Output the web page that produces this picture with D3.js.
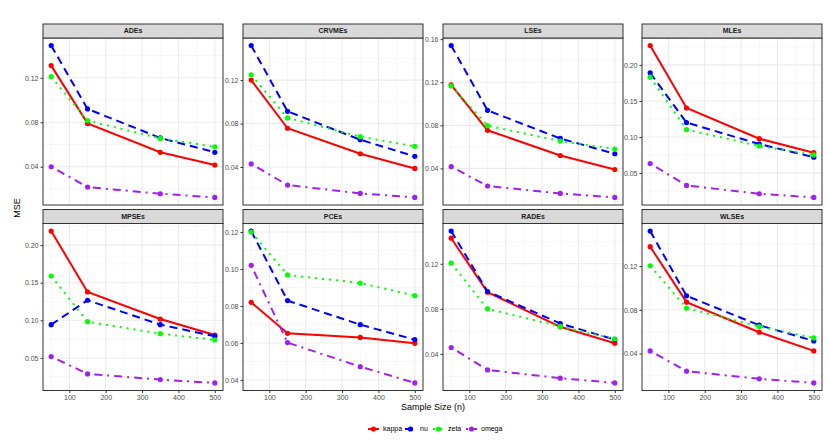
<!DOCTYPE html>
<html>
<head>
<meta charset="utf-8">
<script src="https://cdn.jsdelivr.net/npm/d3@7"></script>
<style>
  body { margin: 0; background: #fff; }
  text { font-family: "Liberation Sans", Arial, sans-serif; }
</style>
</head>
<body>
<div id="chart"></div>
<script>
// sample sizes on the x axis
const sampleSizes = [50, 150, 350, 500];
const xTicks = [100, 200, 300, 400, 500];

// one facet per estimator
const estimators = ["ADEs", "CRVMEs", "LSEs", "MLEs", "MPSEs", "PCEs", "RADEs", "WLSEs"];

// MSE values, one row per estimator (same order as above)
const kappa = [
    [0.131, 0.079, 0.053, 0.0415],
    [0.120, 0.0757, 0.0522, 0.0387],
    [0.1175, 0.0754, 0.052, 0.039],
    [0.2268, 0.1403, 0.0977, 0.0783],
    [0.2186, 0.1377, 0.1017, 0.0805],
    [0.082, 0.0652, 0.063, 0.0598],
    [0.1427, 0.0948, 0.0641, 0.0495],
    [0.1377, 0.087, 0.0595, 0.0424]
];
const nu = [
    [0.149, 0.092, 0.0659, 0.053],
    [0.1518, 0.0913, 0.0651, 0.0498],
    [0.154, 0.0939, 0.0678, 0.0536],
    [0.189, 0.120, 0.0903, 0.072],
    [0.0942, 0.1267, 0.0942, 0.0789],
    [0.1205, 0.0829, 0.0699, 0.0618],
    [0.149, 0.0954, 0.067, 0.0527],
    [0.152, 0.0928, 0.0659, 0.0515]
];
const zeta = [
    [0.121, 0.0815, 0.0655, 0.058],
    [0.1249, 0.0852, 0.0679, 0.059],
    [0.1166, 0.0797, 0.0654, 0.058],
    [0.183, 0.1104, 0.0876, 0.0752],
    [0.1589, 0.0982, 0.0822, 0.0739],
    [0.120, 0.0968, 0.0924, 0.0856],
    [0.1205, 0.080, 0.0644, 0.0533],
    [0.1203, 0.0815, 0.0647, 0.0543]
];
const omega = [
    [0.040, 0.0217, 0.0157, 0.0124],
    [0.0428, 0.0234, 0.0157, 0.012],
    [0.0416, 0.0237, 0.0168, 0.0131],
    [0.0633, 0.0329, 0.0214, 0.0163],
    [0.0518, 0.0288, 0.0212, 0.0168],
    [0.102, 0.0602, 0.0472, 0.0384],
    [0.0457, 0.0258, 0.0185, 0.0143],
    [0.0424, 0.0238, 0.0168, 0.0131]
];

// y tick labels per facet (free y scales)
const yTicks = [
    [0.04, 0.08, 0.12],
    [0.04, 0.08, 0.12],
    [0.04, 0.08, 0.12, 0.16],
    [0.05, 0.10, 0.15, 0.20],
    [0.05, 0.10, 0.15, 0.20],
    [0.04, 0.06, 0.08, 0.10, 0.12],
    [0.04, 0.08, 0.12],
    [0.04, 0.08, 0.12]
];

const seriesNames = ["kappa", "nu", "zeta", "omega"];
const seriesData = [kappa, nu, zeta, omega];
const colors = ["#FF0000", "#0000FF", "#00FF00", "#A020F0"];
const dashes = [null, "8,5", "2,5", "2,5,8,5"];

const width = 830, height = 440;
const colLeft = [43, 243, 443, 642];
const panelW = 180;
const stripH = 14;
const rowTop = [24, 209.5];
const panelH = 167;

const svg = d3.select("#chart").append("svg")
    .attr("width", width)
    .attr("height", height);

const x = d3.scaleLinear().domain([27.5, 522.5]).range([0, panelW]);

estimators.forEach(function (name, i) {
    const col = i % 4, row = Math.floor(i / 4);
    const g = svg.append("g")
        .attr("transform", `translate(${colLeft[col]},${rowTop[row] + stripH})`);

    const all = d3.merge(seriesData.map(s => s[i]));
    const lo = d3.min(all), hi = d3.max(all), pad = (hi - lo) * 0.05;
    const y = d3.scaleLinear().domain([lo - pad, hi + pad]).range([panelH, 0]);

    // grid: minor then major
    const ticks = yTicks[i];
    const step = ticks[1] - ticks[0];
    const minorY = d3.range(ticks[0] - step / 2, hi + pad, step).filter(v => v > lo - pad);
    const minorX = d3.range(50, 501, 100);

    g.selectAll(".minorY").data(minorY).enter().append("line")
        .attr("x1", 0).attr("x2", panelW)
        .attr("y1", d => y(d)).attr("y2", d => y(d))
        .attr("stroke", "#F2F2F2").attr("stroke-width", 0.6);
    g.selectAll(".minorX").data(minorX).enter().append("line")
        .attr("y1", 0).attr("y2", panelH)
        .attr("x1", d => x(d)).attr("x2", d => x(d))
        .attr("stroke", "#F2F2F2").attr("stroke-width", 0.6);
    g.selectAll(".majorY").data(ticks).enter().append("line")
        .attr("x1", 0).attr("x2", panelW)
        .attr("y1", d => y(d)).attr("y2", d => y(d))
        .attr("stroke", "#EBEBEB").attr("stroke-width", 1.1);
    g.selectAll(".majorX").data(xTicks).enter().append("line")
        .attr("y1", 0).attr("y2", panelH)
        .attr("x1", d => x(d)).attr("x2", d => x(d))
        .attr("stroke", "#EBEBEB").attr("stroke-width", 1.1);

    // y axis
    const yAxis = g.append("g")
        .call(d3.axisLeft(y).tickValues(ticks).tickFormat(d3.format(".2f")).tickSize(2.5).tickPadding(2));
    yAxis.select(".domain").remove();
    yAxis.selectAll("line").attr("stroke", "#333333");
    yAxis.selectAll("text").attr("fill", "#4D4D4D").style("font-size", "7px");

    // x axis only on bottom row
    if (row === 1) {
        const xAxis = g.append("g")
            .attr("transform", `translate(0,${panelH})`)
            .call(d3.axisBottom(x).tickValues(xTicks).tickSize(2.5).tickPadding(2));
        xAxis.select(".domain").remove();
        xAxis.selectAll("line").attr("stroke", "#333333");
        xAxis.selectAll("text").attr("fill", "#4D4D4D").style("font-size", "7px");
    }

    // lines and points
    const line = d3.line()
        .x((d, k) => x(sampleSizes[k]))
        .y(d => y(d));

    seriesData.forEach(function (s, j) {
        g.append("path")
            .datum(s[i])
            .attr("d", line)
            .attr("fill", "none")
            .attr("stroke", colors[j])
            .attr("stroke-width", 2)
            .attr("stroke-dasharray", dashes[j]);
        g.selectAll(".pt" + j).data(s[i]).enter().append("circle")
            .attr("cx", (d, k) => x(sampleSizes[k]))
            .attr("cy", d => y(d))
            .attr("r", 2.6)
            .attr("fill", colors[j]);
    });

    // panel border
    g.append("rect")
        .attr("width", panelW).attr("height", panelH)
        .attr("fill", "none").attr("stroke", "#333333").attr("stroke-width", 1);

    // strip
    g.append("rect")
        .attr("y", -stripH).attr("width", panelW).attr("height", stripH)
        .attr("fill", "#D9D9D9").attr("stroke", "#333333").attr("stroke-width", 1);
    g.append("text")
        .attr("x", panelW / 2).attr("y", -stripH / 2)
        .attr("dy", "0.35em")
        .attr("text-anchor", "middle")
        .attr("fill", "#1A1A1A")
        .style("font-size", "7px")
        .style("font-weight", "bold")
        .text(name);
});

// axis titles
svg.append("text")
    .attr("transform", "translate(20,208) rotate(-90)")
    .attr("text-anchor", "middle")
    .style("font-size", "9px")
    .text("MSE");
svg.append("text")
    .attr("x", 433).attr("y", 410)
    .attr("text-anchor", "middle")
    .style("font-size", "9px")
    .text("Sample Size (n)");

// legend
const legendX = [368, 405, 433, 466];
const legend = svg.append("g").attr("transform", "translate(0,429)");
seriesNames.forEach(function (n, j) {
    const lg = legend.append("g").attr("transform", `translate(${legendX[j]},0)`);
    lg.append("line")
        .attr("x1", 0).attr("x2", 11)
        .attr("stroke", colors[j]).attr("stroke-width", 2)
        .attr("stroke-dasharray", dashes[j]);
    lg.append("circle").attr("cx", 5.5).attr("r", 2.6).attr("fill", colors[j]);
    lg.append("text")
        .attr("x", 15).attr("dy", "0.35em")
        .style("font-size", "7px")
        .text(n);
});
</script>
</body>
</html>
